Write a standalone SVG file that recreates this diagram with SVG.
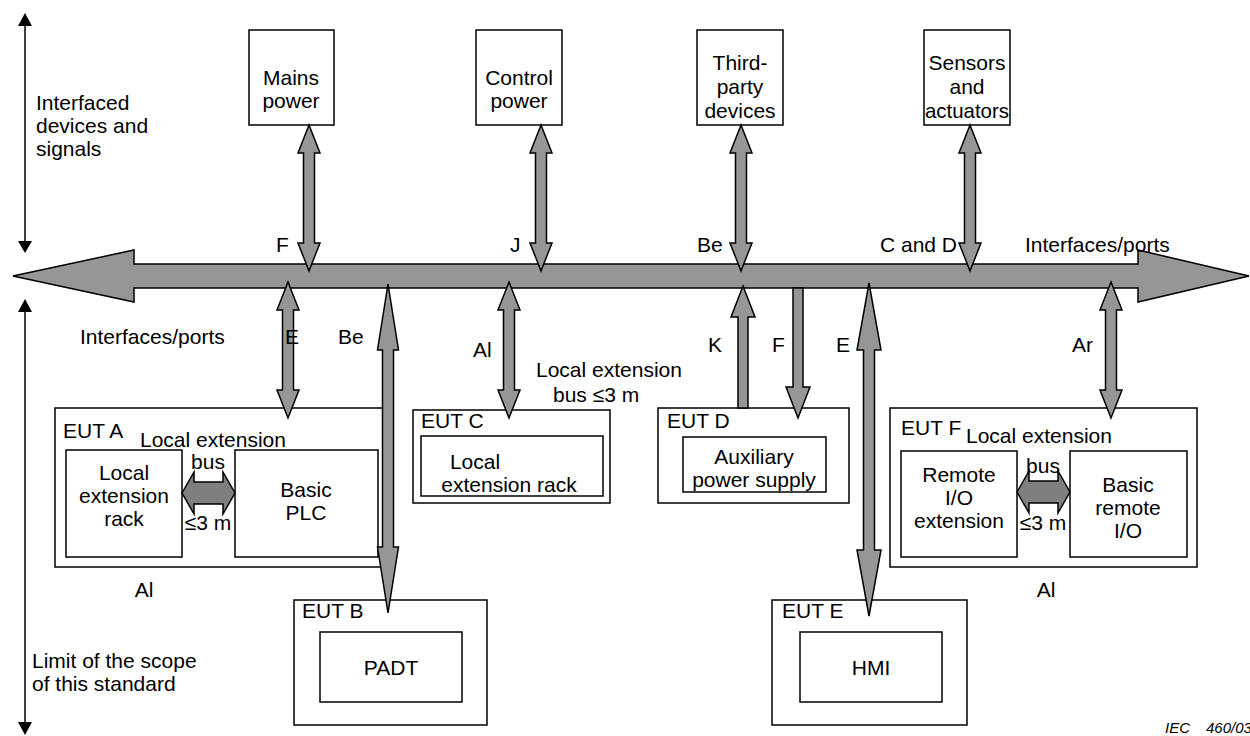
<svg xmlns="http://www.w3.org/2000/svg" width="1250" height="736" viewBox="0 0 1250 736">
<style>
text{font-family:"Liberation Sans",Arial,sans-serif;font-size:21px;fill:#000}
.m{text-anchor:middle}
.box{fill:#fff;stroke:#000;stroke-width:1.5}
.arr{fill:#969696;stroke:#000;stroke-width:1.5;stroke-linejoin:miter}
.darr{fill:#7f7f7f;stroke:#000;stroke-width:1.5}
.ln{stroke:#000;stroke-width:1.5;fill:none}
.ah{fill:#000}
.iec{font-size:15px;font-style:italic}
</style>
<rect width="1250" height="736" fill="#fff"/>

<g id="scope-arrows">
<line class="ln" x1="25" y1="24" x2="25" y2="243"/>
<polygon class="ah" points="25,13 32,26 18,26"/>
<polygon class="ah" points="25,253 32,241 18,241"/>
<line class="ln" x1="25" y1="310" x2="25" y2="724"/>
<polygon class="ah" points="25,299 32,312 18,312"/>
<polygon class="ah" points="25,735 32,722 18,722"/>
<text x="36" y="110">Interfaced</text>
<text x="36" y="133">devices and</text>
<text x="36" y="156">signals</text>
<text x="32" y="668">Limit of the scope</text>
<text x="32" y="691">of this standard</text>
</g>

<g id="mains-power">
<rect class="box" x="249" y="30" width="85" height="95"/>
<text class="m" x="291" y="85">Mains</text>
<text class="m" x="291" y="108">power</text>
</g>
<g id="control-power">
<rect class="box" x="476" y="30" width="86" height="95"/>
<text class="m" x="519" y="85">Control</text>
<text class="m" x="519" y="108">power</text>
</g>
<g id="third-party">
<rect class="box" x="697" y="30" width="86" height="95"/>
<text class="m" x="740" y="70">Third-</text>
<text class="m" x="740" y="94">party</text>
<text class="m" x="740" y="118">devices</text>
</g>
<g id="sensors">
<rect class="box" x="924" y="30" width="86" height="95"/>
<text class="m" x="967" y="70">Sensors</text>
<text class="m" x="967" y="94">and</text>
<text class="m" x="967" y="118" textLength="84" lengthAdjust="spacingAndGlyphs">actuators</text>
</g>

<g id="eut-a">
<rect class="box" x="55" y="408" width="328" height="159"/>
<rect class="box" x="66" y="450" width="116" height="107"/>
<rect class="box" x="235" y="450" width="143" height="107"/>
<text x="63" y="438">EUT A</text>
<text x="140" y="447">Local extension</text>
<text class="m" x="208" y="469">bus</text>
<text class="m" x="124" y="480">Local</text>
<text class="m" x="124" y="503">extension</text>
<text class="m" x="124" y="526">rack</text>
<text class="m" x="306" y="497">Basic</text>
<text class="m" x="306" y="520">PLC</text>
<text class="m" x="208" y="530">≤3 m</text>
<text class="m" x="144" y="597">Al</text>
</g>

<g id="eut-b">
<rect class="box" x="294" y="600" width="193" height="125"/>
<rect class="box" x="320" y="632" width="142" height="70"/>
<text x="302" y="618">EUT B</text>
<text class="m" x="391" y="675">PADT</text>
</g>

<g id="eut-c">
<rect class="box" x="413" y="410" width="197" height="93"/>
<rect class="box" x="421" y="436" width="182" height="60"/>
<text x="421" y="428">EUT C</text>
<text class="m" x="475" y="469">Local</text>
<text class="m" x="509" y="492">extension rack</text>
</g>

<g id="eut-d">
<rect class="box" x="658" y="408" width="191" height="95"/>
<rect class="box" x="683" y="437" width="143" height="55"/>
<text x="667" y="428">EUT D</text>
<text class="m" x="754" y="464">Auxiliary</text>
<text class="m" x="754" y="487">power supply</text>
</g>

<g id="eut-e">
<rect class="box" x="772" y="600" width="195" height="125"/>
<rect class="box" x="800" y="632" width="142" height="70"/>
<text x="782" y="618">EUT E</text>
<text class="m" x="871" y="675">HMI</text>
</g>

<g id="eut-f">
<rect class="box" x="890" y="408" width="307" height="159"/>
<rect class="box" x="901" y="451" width="116" height="106"/>
<rect class="box" x="1070" y="451" width="117" height="106"/>
<text x="901" y="435">EUT F</text>
<text x="966" y="443">Local extension</text>
<text class="m" x="1043" y="473">bus</text>
<text class="m" x="959" y="482">Remote</text>
<text class="m" x="959" y="505">I/O</text>
<text class="m" x="959" y="528">extension</text>
<text class="m" x="1128" y="492">Basic</text>
<text class="m" x="1128" y="515">remote</text>
<text class="m" x="1128" y="538">I/O</text>
<text class="m" x="1043" y="530">≤3 m</text>
<text class="m" x="1046" y="597">Al</text>
</g>

<g id="connectors">
<polygon class="arr" points="13,276 134,250 134,264 1138,264 1138,250 1249,276 1138,302 1138,288 134,288 134,302"/>
<polygon class="arr" points="309,125 320,153 314.5,153 314.5,243 320,243 309,271 298,243 303.5,243 303.5,153 298,153"/>
<polygon class="arr" points="541,125 552,153 546.5,153 546.5,243 552,243 541,271 530,243 535.5,243 535.5,153 530,153"/>
<polygon class="arr" points="741,125 752,153 746.5,153 746.5,243 752,243 741,271 730,243 735.5,243 735.5,153 730,153"/>
<polygon class="arr" points="970,125 981,153 975.5,153 975.5,243 981,243 970,271 959,243 964.5,243 964.5,153 959,153"/>
<polygon class="arr" points="288,282 299,310 293.5,310 293.5,390 299,390 288,418 277,390 282.5,390 282.5,310 277,310"/>
<polygon class="arr" points="509,282 520,310 514.5,310 514.5,390 520,390 509,418 498,390 503.5,390 503.5,310 498,310"/>
<polygon class="arr" points="1111,282 1122,310 1116.5,310 1116.5,390 1122,390 1111,418 1100,390 1105.5,390 1105.5,310 1100,310"/>
<polygon class="arr" points="388,284 398.5,350 393.5,350 393.5,547 398.5,547 388,613 377.5,547 382.5,547 382.5,350 377.5,350"/>
<polygon class="arr" points="869,283 881,350 874.5,350 874.5,550 881,550 869,616 857,550 863.5,550 863.5,350 857,350"/>
<polygon class="arr" points="743,286 755,317 748,317 748,408 738,408 738,317 731,317"/>
<polygon class="arr" points="793,288 803,288 803,387 810,387 798,418 786,387 793,387"/>
<polygon class="darr" points="182,493 194,472 194,482 223,482 223,472 235,493 223,514 223,504 194,504 194,514"/>
<polygon class="darr" points="1017,492 1029,471 1029,481 1058,481 1058,471 1070,492 1058,513 1058,503 1029,503 1029,513"/>
</g>

<g id="labels">
<text x="276" y="252">F</text>
<text x="510" y="252">J</text>
<text x="697" y="252">Be</text>
<text x="880" y="252">C and D</text>
<text x="1025" y="252">Interfaces/ports</text>
<text x="80" y="344">Interfaces/ports</text>
<text x="285" y="344">E</text>
<text x="338" y="344">Be</text>
<text x="473" y="357">Al</text>
<text x="536" y="377">Local extension</text>
<text x="553" y="402">bus ≤3 m</text>
<text x="708" y="352">K</text>
<text x="772" y="352">F</text>
<text x="836" y="352">E</text>
<text x="1072" y="352">Ar</text>
<text class="iec" x="1165" y="733">IEC<tspan x="1206">460/03</tspan></text>
</g>
</svg>
